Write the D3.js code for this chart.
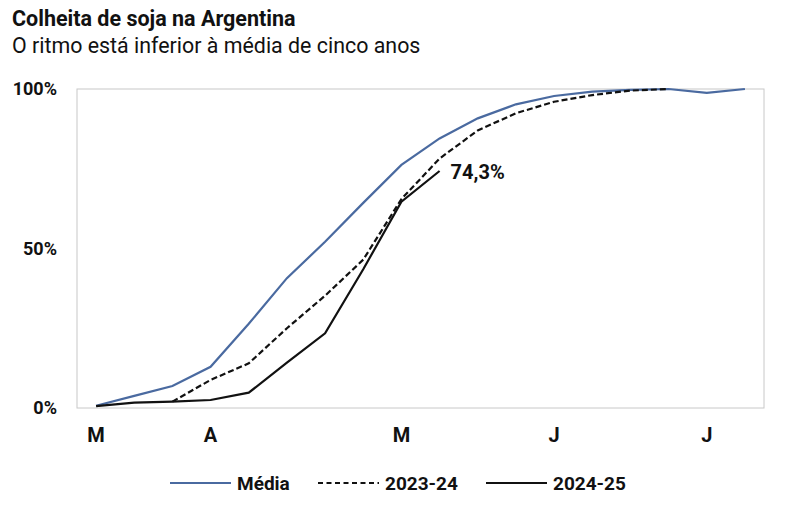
<!DOCTYPE html>
<html>
<head>
<meta charset="utf-8">
<script src="https://cdn.jsdelivr.net/npm/d3@7"></script>
<style>
  body { margin: 0; background: #fff; }
  svg text { font-family: Roboto, "Liberation Sans", sans-serif; fill: #111; }
</style>
</head>
<body>
<div id="chart"></div>
<script>
// weekly points, March to July
var weeks = d3.range(18);
var tickWeeks = [0, 3, 8, 12, 16];
var tickLabels = ["M", "A", "M", "J", "J"];

var media = [0.7, 3.8, 6.9, 12.9, 26.4, 40.7, 52.1, 64.3, 76.2, 84.5, 90.8, 95.2, 97.8, 99.2, 99.7, 100, 98.8, 100];
var safra2324 = [null, null, 2.0, 8.8, 14.0, 25.0, 35.2, 46.5, 65.5, 78.2, 87.0, 92.4, 96.0, 98.1, 99.5, 100, null, null];
var safra2425 = [0.6, 1.7, 2.0, 2.5, 4.8, 14.2, 23.4, 43.5, 64.7, 74.3, null, null, null, null, null, null, null, null];

var yTicks = [0, 50, 100];

var svg, x, y;

function setup() {
  svg = d3.select("#chart")
    .append("svg")
    .attr("width", 800)
    .attr("height", 512);

  svg.append("text")
    .attr("x", 12).attr("y", 26)
    .attr("font-size", 21.5).attr("font-weight", "bold")
    .text("Colheita de soja na Argentina");

  svg.append("text")
    .attr("x", 12).attr("y", 53)
    .attr("font-size", 21.4)
    .text("O ritmo está inferior à média de cinco anos");
}

function drawChart() {
  var left = 77, right = 764, top = 89, bottom = 408;

  x = d3.scaleBand().domain(weeks).range([left, right]);
  y = d3.scaleLinear().domain([0, 100]).range([bottom, top]);

  // frame
  svg.append("rect")
    .attr("x", left).attr("y", top)
    .attr("width", right - left).attr("height", bottom - top)
    .attr("fill", "none")
    .attr("stroke", "#c8c8c8")
    .attr("stroke-width", 1);

  // y axis labels
  var yAxis = d3.axisLeft(y)
    .tickValues(yTicks)
    .tickFormat(function(d) { return d + "%"; })
    .tickSize(0)
    .tickPadding(20);
  var gy = svg.append("g").attr("transform", "translate(" + left + ",0)").call(yAxis);
  gy.select(".domain").remove();
  gy.selectAll("text")
    .attr("font-size", 18).attr("font-weight", "bold")
    .style("font-family", "Roboto, sans-serif")
    .attr("fill", "#111");

  // x axis labels
  var xAxis = d3.axisBottom(x)
    .tickValues(tickWeeks)
    .tickFormat(function(d) { return tickLabels[tickWeeks.indexOf(d)]; })
    .tickSize(0)
    .tickPadding(20);
  var gx = svg.append("g").attr("transform", "translate(0," + bottom + ")").call(xAxis);
  gx.select(".domain").remove();
  gx.selectAll("text")
    .attr("font-size", 20).attr("font-weight", "bold")
    .style("font-family", "Roboto, sans-serif")
    .attr("fill", "#111");

  var line = d3.line()
    .defined(function(d) { return d != null; })
    .x(function(d, i) { return x(i) + x.bandwidth() / 2; })
    .y(function(d) { return y(d); });

  svg.append("path")
    .datum(media)
    .attr("d", line)
    .attr("fill", "none")
    .attr("stroke", "#4a6aa0")
    .attr("stroke-width", 2.2);

  svg.append("path")
    .datum(safra2324)
    .attr("d", line)
    .attr("fill", "none")
    .attr("stroke", "#111")
    .attr("stroke-width", 2.2)
    .attr("stroke-dasharray", "6,3");

  svg.append("path")
    .datum(safra2425)
    .attr("d", line)
    .attr("fill", "none")
    .attr("stroke", "#111")
    .attr("stroke-width", 2.2);

  // last value label
  var last = 9;
  svg.append("text")
    .attr("x", x(last) + x.bandwidth() / 2 + 11)
    .attr("y", y(safra2425[last]) + 8)
    .attr("font-size", 20).attr("font-weight", "bold")
    .text("74,3%");
}

function legend() {
  var items = [
    { name: "Média", color: "#4a6aa0", dash: null, x: 170 },
    { name: "2023-24", color: "#111", dash: "5,3.5", x: 318 },
    { name: "2024-25", color: "#111", dash: null, x: 486 }
  ];
  var ly = 483;
  var g = svg.append("g").attr("class", "legend");
  items.forEach(function(it) {
    g.append("line")
      .attr("x1", it.x).attr("x2", it.x + 61)
      .attr("y1", ly).attr("y2", ly)
      .attr("stroke", it.color)
      .attr("stroke-width", 2.2)
      .attr("stroke-dasharray", it.dash);
    g.append("text")
      .attr("x", it.x + 67).attr("y", ly + 7)
      .attr("font-size", 19).attr("font-weight", "bold")
      .text(it.name);
  });
}

setup();
drawChart();
legend();
</script>
</body>
</html>
